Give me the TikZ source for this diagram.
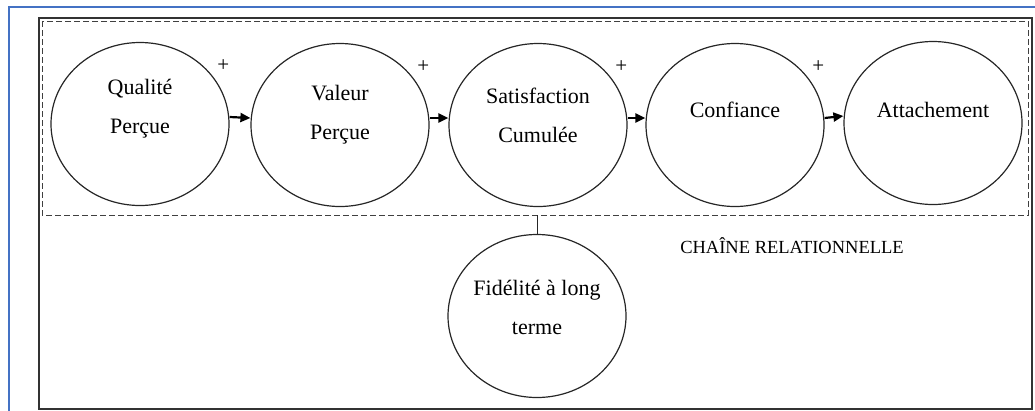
\documentclass[tikz,border=0pt]{standalone}
\usepackage{fontspec}
\setmainfont{Liberation Serif}
\usetikzlibrary{arrows.meta,shapes}
\definecolor{frameblue}{RGB}{68,114,196}
\tikzstyle{concept}=[ellipse,draw=black!85,line width=1.2pt,minimum width=178pt,minimum height=163pt,inner sep=0pt]
\tikzstyle{ctext}=[align=center,font=\fontsize{22}{39}\selectfont,inner sep=0pt]
\tikzstyle{edge} = [draw,line width=2.2pt,-{Triangle[length=10pt,width=9pt]}]
\tikzstyle{sign}=[font=\fontsize{21}{21}\selectfont,inner sep=0pt]

\begin{document}
\begin{tikzpicture}[x=1pt,y=-1pt]
    \useasboundingbox (0,0) rectangle (1035,410);

    % frames
    \draw[frameblue, line width=2.5pt] (9,411) -- (9,7) -- (1036,7);
    \draw[black!80, line width=1.3pt] (39,18) rectangle (1032,409);
    \draw[black!75, line width=1pt, dash pattern=on 6pt off 3pt] (42,21) rectangle (1028,215);
    \coordinate (dashsw) at (42,215);

    \foreach \x/\y/\name in {140/124/qual, 340/125/val, 538/125/sat, 735/125/conf, 933/123/att, 537/316/fid}
        \node[concept] (\name) at (\x,\y) {};

    \foreach \name/\dy/\txt in {qual/15/{Qualité\\Perçue}, val/10/{Valeur\\Perçue}, sat/10/{Satisfaction\\Cumulée}, conf/15/{Confiance}, att/13/{Attachement}, fid/9/{Fidélité à long\\terme}}
        \node[ctext] (\name-txt) at ([yshift=\dy pt]\name.center) {\txt};

    \foreach \source/ \dest in {qual/val, val/sat, sat/conf, conf/att}
        \path[edge] ([yshift=7pt]\source.east) -- ([yshift=7pt]\dest.west);

    \foreach \name/\n in {qual/1, val/2, sat/3, conf/4}
        \node[sign] (plus\n) at ([xshift=20pt,yshift=0pt]\name.north east) {+};

    \draw[black!85, line width=1pt] (fid.north |- dashsw) -- (fid.north);

    \node[font=\fontsize{18.5}{20}\selectfont] (chain) at (792,246) {CHAÎNE RELATIONNELLE};

\end{tikzpicture}
\end{document}
